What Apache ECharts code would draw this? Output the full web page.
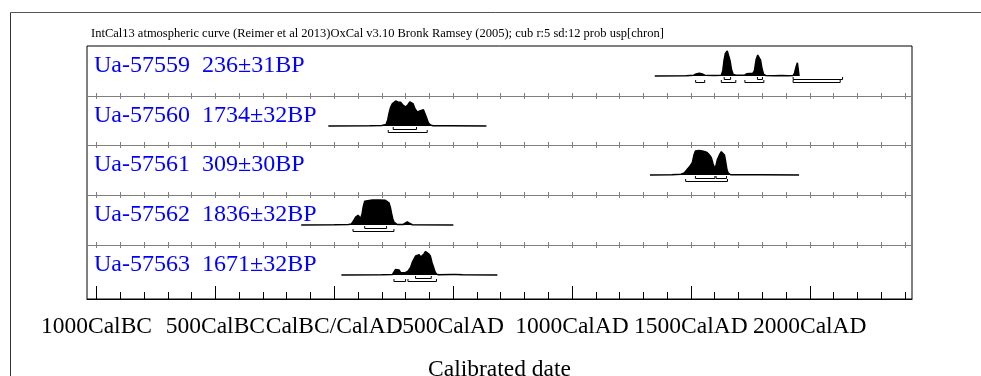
<!DOCTYPE html>
<html>
<head>
<meta charset="utf-8">
<title>OxCal multiplot</title>
<script src="https://cdn.jsdelivr.net/npm/echarts@6/dist/echarts.min.js"></script>
<style>
html, body { margin: 0; padding: 0; background: #fff; }
#chart { width: 981px; height: 376px; }
</style>
</head>
<body>
<div id="chart"></div>
<script>
// sample names, top to bottom
const samples = [
  'Ua-57559  236±31BP',
  'Ua-57560  1734±32BP',
  'Ua-57561  309±30BP',
  'Ua-57562  1836±32BP',
  'Ua-57563  1671±32BP'
]

// calibrated probability, [year AD, relative height]
const dist57559 = [
  [1348, 0], [1480, 0.01], [1512, 0.03], [1522, 0.08], [1535, 0.11], [1548, 0.08], [1558, 0.03],
  [1600, 0.02], [1628, 0.03], [1634, 0.2], [1639, 0.6], [1645, 0.9], [1653, 1.0], [1659, 0.92],
  [1665, 0.6], [1671, 0.25], [1678, 0.06], [1690, 0.03], [1725, 0.03], [1734, 0.09], [1748, 0.1],
  [1760, 0.1], [1767, 0.2], [1774, 0.64], [1781, 0.84], [1787, 0.88], [1793, 0.64], [1799, 0.3],
  [1806, 0.06], [1815, 0.02], [1850, 0.01], [1880, 0.02], [1910, 0.01], [1930, 0.02], [1936, 0.12],
  [1942, 0.35], [1948, 0.53], [1953, 0.5], [1955, 0.46], [1955, 0]
]
const dist57560 = [
  [-25, 0], [150, 0.01], [200, 0.02], [218, 0.06], [225, 0.25], [230, 0.49], [237, 0.75],
  [244, 0.89], [252, 0.97], [258, 1.0], [268, 0.96], [279, 0.95], [290, 0.82], [300, 0.76],
  [310, 0.85], [318, 0.96], [325, 0.99], [332, 0.88], [340, 0.68], [349, 0.56], [357, 0.57],
  [366, 0.62], [375, 0.65], [381, 0.6], [387, 0.36], [396, 0.12], [405, 0.04], [415, 0.01],
  [480, 0.01], [640, 0]
]
const dist57561 = [
  [1328, 0], [1420, 0.01], [1458, 0.03], [1472, 0.08], [1485, 0.23], [1496, 0.35], [1506, 0.49],
  [1513, 0.8], [1519, 0.96], [1526, 1.0], [1535, 0.98], [1548, 0.96], [1560, 0.93], [1569, 0.89],
  [1578, 0.8], [1586, 0.69], [1593, 0.45], [1601, 0.25], [1606, 0.4], [1612, 0.63], [1620, 0.8],
  [1628, 0.93], [1635, 1.0], [1641, 0.8], [1646, 0.55], [1652, 0.2], [1657, 0.08], [1667, 0.01],
  [1794, 0.01], [1955, 0]
]
const dist57562 = [
  [-139, 0], [0, 0.01], [60, 0.02], [72, 0.04], [80, 0.15], [90, 0.32], [100, 0.39], [106, 0.32],
  [111, 0.26], [117, 0.45], [122, 0.73], [128, 0.95], [132, 1.0], [160, 1.0], [190, 1.0], [215, 0.99],
  [222, 0.96], [230, 0.89], [236, 0.7], [241, 0.46], [246, 0.25], [251, 0.12], [258, 0.04],
  [265, 0.02], [290, 0.02], [298, 0.07], [307, 0.12], [316, 0.07], [328, 0.01], [501, 0]
]
const dist57563 = [
  [30, 0], [200, 0.01], [245, 0.02], [251, 0.08], [258, 0.22], [265, 0.29], [272, 0.2], [279, 0.1],
  [290, 0.09], [300, 0.1], [310, 0.15], [321, 0.3], [330, 0.55], [342, 0.76], [350, 0.8], [357, 0.81],
  [364, 0.72], [370, 0.68], [378, 0.85], [384, 0.94], [389, 0.97], [396, 0.86], [404, 0.76],
  [411, 0.5], [418, 0.3], [424, 0.12], [430, 0.03], [440, 0.01], [495, 0.02], [503, 0.04],
  [512, 0.02], [540, 0.01], [686, 0]
]

// 68.2% and 95.4% ranges, [from, to]
const range68_57559 = [[1640, 1667], [1780, 1801], [1930, 2138]]
const range95_57559 = [[1520, 1558], [1628, 1689], [1727, 1807], [1930, 2128]]
const range68_57560 = [[248, 346]]
const range95_57560 = [[227, 391]]
const range68_57561 = [[1519, 1601], [1606, 1650]]
const range95_57561 = [[1478, 1654]]
const range68_57562 = [[128, 220]]
const range95_57562 = [[79, 251]]
const range68_57563 = [[342, 408]]
const range95_57563 = [[251, 300], [310, 430]]

// axis ticks
const majorTicks = [-1000, -500, 0, 500, 1000, 1500, 2000]
const majorLabels = ['1000CalBC', '500CalBC', 'CalBC/CalAD', '500CalAD', '1000CalAD', '1500CalAD', '2000CalAD']
const minorTicks = []
for (let y = -1000; y <= 2400; y += 100) minorTicks.push(y)

const dists = [dist57559, dist57560, dist57561, dist57562, dist57563]
const ranges68 = [range68_57559, range68_57560, range68_57561, range68_57562, range68_57563]
const ranges95 = [range95_57559, range95_57560, range95_57561, range95_57562, range95_57563]

const FONT = '"Liberation Serif", "Times New Roman", serif'
const X_MIN = -1040
const X_MAX = 2430
const LEFT = 87
const WIDTH = 825
const rowTop = [46, 96, 145, 195, 245]
const rowBottom = [96, 145, 195, 245, 299]
const BASE = 30 // px from row top down to the zero line
const UNIT = 25 // px for height 1
const GRAY = '#808080'

const grid = []
const xAxis = []
const yAxis = []
const series = []
const graphic = []

function sepAxis(gridIndex, position) {
  return {
    type: 'value', gridIndex, position, min: X_MIN, max: X_MAX,
    axisLine: { show: true, onZero: false, lineStyle: { color: GRAY, width: 1 } },
    axisTick: { show: true, inside: false, length: 3, customValues: minorTicks, lineStyle: { color: GRAY, width: 1 } },
    axisLabel: { show: false },
    splitLine: { show: false }
  }
}

samples.forEach((name, i) => {
  const h = rowBottom[i] - rowTop[i]
  grid.push({ left: LEFT, width: WIDTH, top: rowTop[i], height: h, outerBoundsMode: 'none' })
  yAxis.push({
    type: 'value', gridIndex: i, show: false,
    min: -(h - BASE) / UNIT, max: BASE / UNIT
  })
  if (i > 0) xAxis.push(sepAxis(i, 'top'))
  let xi
  if (i < samples.length - 1) {
    xAxis.push(sepAxis(i, 'bottom'))
    xi = xAxis.length - 1
  } else {
    // bottom axis with the date labels
    xAxis.push({
      type: 'value', gridIndex: i, position: 'bottom', min: X_MIN, max: X_MAX,
      axisLine: { show: true, onZero: false, lineStyle: { color: '#000', width: 1 } },
      axisTick: { show: true, inside: true, length: 13, customValues: majorTicks, lineStyle: { color: '#000' } },
      axisLabel: {
        customValues: majorTicks,
        formatter: v => majorLabels[majorTicks.indexOf(v)],
        fontFamily: FONT, fontSize: 23.5, color: '#000', margin: 16
      },
      splitLine: { show: false },
      name: 'Calibrated date', nameLocation: 'middle', nameGap: 59,
      nameTextStyle: { fontFamily: FONT, fontSize: 23.5, color: '#000' }
    })
    xi = xAxis.length - 1
  }

  series.push({
    type: 'line', xAxisIndex: xi, yAxisIndex: i,
    data: dists[i], symbol: 'none', silent: true, animation: false,
    lineStyle: { color: '#000', width: 1.5 },
    areaStyle: { color: '#000', opacity: 1, origin: 'auto' }
  })

  const br = ranges68[i].map(r => [r[0], r[1], 68]).concat(ranges95[i].map(r => [r[0], r[1], 95]))
  series.push({
    type: 'custom', xAxisIndex: xi, yAxisIndex: i, silent: true, animation: false,
    data: br, encode: { x: [0, 1], y: 2 },
    renderItem: (params, api) => {
      const a = api.coord([api.value(0), 0])
      const b = api.coord([api.value(1), 0])
      const y = Math.round(a[1]) + (api.value(2) === 68 ? 3 : 6) + 0.5
      return {
        type: 'polyline',
        shape: { points: [[a[0], y - 2.5], [a[0], y], [b[0], y], [b[0], y - 2.5]] },
        style: { stroke: '#000', fill: null, lineWidth: 1 }
      }
    }
  })

  graphic.push({
    type: 'text', left: 94, top: rowTop[i] + 8, z: 10,
    style: { text: name, font: '24px ' + FONT, fill: '#0000ff' }
  })
})

// outer frame of the plot + minor ticks along the bottom
grid.push({ left: LEFT, width: WIDTH, top: 46, height: 253, show: true, borderColor: '#000', borderWidth: 1, outerBoundsMode: 'none' })
yAxis.push({ type: 'value', gridIndex: 5, show: false })
xAxis.push({
  type: 'value', gridIndex: 5, position: 'bottom', min: X_MIN, max: X_MAX,
  axisLine: { show: false, onZero: false },
  axisTick: { show: true, inside: true, length: 7, customValues: minorTicks, lineStyle: { color: '#000' } },
  axisLabel: { show: false },
  splitLine: { show: false }
})

// page border lines
graphic.push({ type: 'line', shape: { x1: 10.5, y1: 12.5, x2: 981, y2: 12.5 }, style: { stroke: '#555', lineWidth: 1 } })
graphic.push({ type: 'line', shape: { x1: 10.5, y1: 12.5, x2: 10.5, y2: 376 }, style: { stroke: '#333', lineWidth: 1 } })

const chart = echarts.init(document.getElementById('chart'))
chart.setOption({
  backgroundColor: '#fff',
  animation: false,
  title: {
    text: 'IntCal13 atmospheric curve (Reimer et al 2013)OxCal v3.10 Bronk Ramsey (2005); cub r:5 sd:12 prob usp[chron]',
    left: 91, top: 27, padding: 0,
    textStyle: { fontFamily: FONT, fontSize: 12.5, fontWeight: 'normal', color: '#000' }
  },
  grid,
  xAxis,
  yAxis,
  series,
  graphic
})
</script>
</body>
</html>
